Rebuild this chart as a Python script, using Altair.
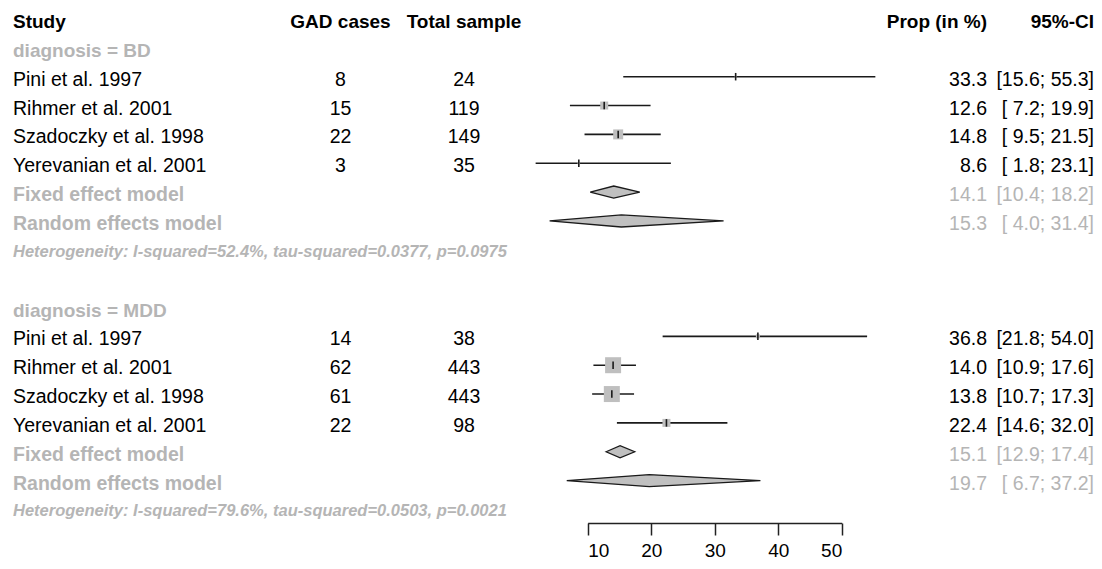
import altair as alt
import pandas as pd

# ---------------- data ----------------
studies = ["Pini et al. 1997", "Rihmer et al. 2001", "Szadoczky et al. 1998", "Yerevanian et al. 2001"]

bd_cases = [8, 15, 22, 3]
bd_total = [24, 119, 149, 35]
bd_prop = [33.3, 12.6, 14.8, 8.6]
bd_lower = [15.6, 7.2, 9.5, 1.8]
bd_upper = [55.3, 19.9, 21.5, 23.1]
bd_weight = [4, 64, 100, 6]

mdd_cases = [14, 62, 61, 22]
mdd_total = [38, 443, 443, 98]
mdd_prop = [36.8, 14.0, 13.8, 22.4]
mdd_lower = [21.8, 10.9, 10.7, 14.6]
mdd_upper = [54.0, 17.6, 17.3, 32.0]
mdd_weight = [16, 256, 256, 64]

bd_fixed = [14.1, 10.4, 18.2]
bd_random = [15.3, 4.0, 31.4]
mdd_fixed = [15.1, 12.9, 17.4]
mdd_random = [19.7, 6.7, 37.2]

bd_het = "Heterogeneity: I-squared=52.4%, tau-squared=0.0377, p=0.0975"
mdd_het = "Heterogeneity: I-squared=79.6%, tau-squared=0.0503, p=0.0021"

group_labels = ["diagnosis = BD", "diagnosis = MDD"]
header = ["Study", "GAD cases", "Total sample", "Prop (in %)", "95%-CI"]
axis_ticks = [10, 20, 30, 40, 50]

# ---------------- build tables ----------------
groups = [
    (group_labels[0], bd_cases, bd_total, bd_prop, bd_lower, bd_upper, bd_weight, bd_fixed, bd_random, bd_het),
    (group_labels[1], mdd_cases, mdd_total, mdd_prop, mdd_lower, mdd_upper, mdd_weight, mdd_fixed, mdd_random, mdd_het),
]

texts = []
study_rows = []
diamonds = []


def add(row, col, text, kind):
    texts.append(dict(row=row, col=col, text=text, kind=kind))


for c, h in zip(["study", "cases", "total", "prop", "ci"], header):
    add(0, c, h, "header")


def ci_text(lo, hi):
    return f"[{lo:4.1f}; {hi:4.1f}]"


start = 1
H = 0.21
for gi, (lab, cases, total, prop, lower, upper, weight, fixed, random, het) in enumerate(groups):
    add(start, "study", lab, "sub")
    for k in range(len(studies)):
        r = start + 1 + k
        add(r, "study", studies[k], "study")
        add(r, "cases", str(cases[k]), "study")
        add(r, "total", str(total[k]), "study")
        add(r, "prop", f"{prop[k]:.1f}", "study")
        add(r, "ci", ci_text(lower[k], upper[k]), "study")
        study_rows.append(dict(row=r, prop=prop[k], lower=lower[k], upper=upper[k], weight=weight[k]))
    for j, (name, est) in enumerate([("Fixed effect model", fixed), ("Random effects model", random)]):
        r = start + 5 + j
        add(r, "study", name, "model")
        add(r, "prop", f"{est[0]:.1f}", "model")
        add(r, "ci", ci_text(est[1], est[2]), "model")
        did = f"{gi}-{j}"
        diamonds.append(dict(id=did, x=est[1], ytop=r, ybot=r))
        diamonds.append(dict(id=did, x=est[0], ytop=r - H, ybot=r + H))
        diamonds.append(dict(id=did, x=est[2], ytop=r, ybot=r))
    add(start + 7, "study", het, "het")
    start += 9

text_df = pd.DataFrame(texts)
study_df = pd.DataFrame(study_rows)
dia_df = pd.DataFrame(diamonds)

# ---------------- scales ----------------
FONT = "Liberation Sans"
GRAY = "#b5b5b5"
xscale = alt.Scale(domain=[10, 50], range=[579.7, 833.7], nice=False, zero=False)
ROW = 28.85
d0 = -11 / ROW
yscale = alt.Scale(domain=[d0, d0 + 553 / ROW], range=[0, 553], nice=False, zero=False)
xaxis = alt.Axis(values=axis_ticks, offset=-38, tickSize=12, tickWidth=1.5, tickColor="#222222",
                 domainColor="#222222", domainWidth=1.5, labelFont=FONT, labelFontSize=19,
                 labelColor="black", labelPadding=6, grid=False, title="")

ci_rules = alt.Chart(study_df).mark_rule(color="#1a1a1a", strokeWidth=1.6).encode(
    x=alt.X("lower:Q", scale=xscale, axis=xaxis),
    x2="upper:Q",
    y=alt.Y("row:Q", scale=yscale, axis=None),
)

squares = alt.Chart(study_df).mark_square(color="#bfbfbf", opacity=1).encode(
    x=alt.X("prop:Q", scale=xscale),
    y=alt.Y("row:Q", scale=yscale),
    size=alt.Size("weight:Q", scale=alt.Scale(domain=[0, 256], range=[0, 256]), legend=None),
)

ticks = alt.Chart(study_df).transform_calculate(
    y1="datum.row - 0.13", y2="datum.row + 0.13"
).mark_rule(color="#1a1a1a", strokeWidth=1.6).encode(
    x=alt.X("prop:Q", scale=xscale),
    y=alt.Y("y1:Q", scale=yscale),
    y2="y2:Q",
)

dia = alt.Chart(dia_df).mark_area(fill="#c0c0c0", stroke="#1a1a1a", strokeWidth=1.3, orient="vertical", opacity=1).encode(
    x=alt.X("x:Q", scale=xscale),
    y=alt.Y("ytop:Q", scale=yscale),
    y2="ybot:Q",
    detail="id:N",
)

colx = {"study": 5, "cases": 332.5, "total": 456, "prop": 979, "ci": 1086}
colalign = {"study": "left", "cases": "center", "total": "center", "prop": "right", "ci": "right"}


def text_layer(kind, col, color, weight="normal", style="normal", size=19.5, dy=3):
    return alt.Chart(text_df).transform_filter(
        (alt.datum.kind == kind) & (alt.datum.col == col)
    ).mark_text(align=colalign[col], baseline="middle", font=FONT, fontSize=size,
                fontWeight=weight, fontStyle=style, color=color, dy=dy).encode(
        x=alt.value(colx[col]),
        y=alt.Y("row:Q", scale=yscale),
        text="text:N",
    )


layers = [ci_rules, squares, ticks, dia]
for col in ["study", "cases", "total", "prop", "ci"]:
    layers.append(text_layer("header", col, "black", weight="bold", size=19))
    layers.append(text_layer("study", col, "black"))
layers.append(text_layer("sub", "study", GRAY, weight="bold", size=19))
layers.append(text_layer("model", "study", GRAY, weight="bold", size=19.5))
layers.append(text_layer("model", "prop", GRAY))
layers.append(text_layer("model", "ci", GRAY))
layers.append(text_layer("het", "study", GRAY, weight="bold", style="italic", size=16.5, dy=2))

chart = alt.layer(*layers).properties(
    width=1086, height=553, autosize=alt.AutoSizeParams(type="none"), padding=0
).configure_view(strokeWidth=0)

chart.save("out.html", embed_options={"renderer": "svg", "actions": False})
